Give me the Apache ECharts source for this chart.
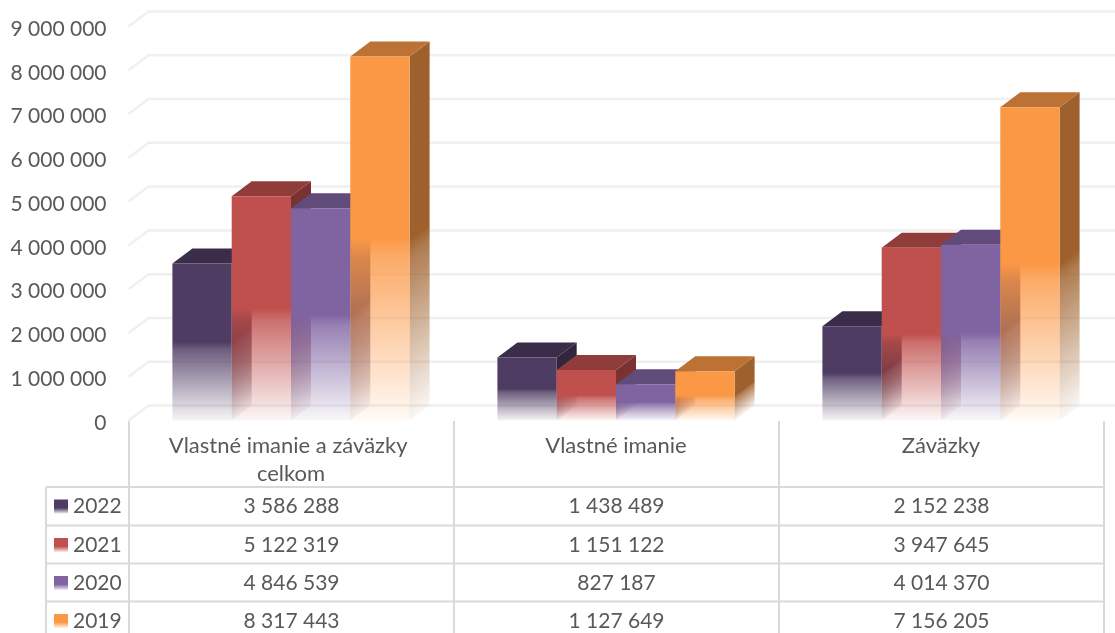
<!DOCTYPE html>
<html>
<head>
<meta charset="utf-8">
<style>html,body{margin:0;padding:0;background:#fff}#c{width:1115px;height:633px}</style>
<script src="https://cdn.jsdelivr.net/npm/echarts@6/dist/echarts.min.js"></script>
</head>
<body>
<div id="c"></div>
<script>
const categories = ['Vlastné imanie a záväzky celkom', 'Vlastné imanie', 'Záväzky'];
const years = ['2022', '2021', '2020', '2019'];
const values2022 = [3586288, 1438489, 2152238];
const values2021 = [5122319, 1151122, 3947645];
const values2020 = [4846539, 827187, 4014370];
const values2019 = [8317443, 1127649, 7156205];
const yTicks = [0, 1000000, 2000000, 3000000, 4000000, 5000000, 6000000, 7000000, 8000000, 9000000];
const seriesValues = [values2022, values2021, values2020, values2019];
const frontColors = [[79, 60, 99], [192, 80, 77], [128, 100, 162], [251, 152, 70]];

const DX = 20, DY = 15, BAR_FRACTION = 59.3 / 325;
const FONT = 'Lato';
const TEXT = '#595959';
const LINE = '#D9D9D9';
const fmt = v => String(v).replace(/\B(?=(\d{3})+(?!\d))/g, ' ');
const rgb = (c, a, k) => `rgba(${Math.round(c[0]*(k||1))},${Math.round(c[1]*(k||1))},${Math.round(c[2]*(k||1))},${a})`;
const fadeStops = (c, k) => [
  {offset: 0, color: rgb(c, 1, k)},
  {offset: 0.5, color: rgb(c, 1, k)},
  {offset: 0.55, color: rgb(c, 0.82, k)},
  {offset: 1, color: rgb(c, 0.05, k)}
];

function wallItem(params, api) {
  const y = api.coord([0, api.value(1)])[1];
  const cs = params.coordSys;
  return {
    type: 'polyline', silent: true,
    shape: {points: [[cs.x, y], [cs.x + DX, y - DY], [cs.x + cs.width + DX, y - DY]]},
    style: {stroke: '#F0F0F0', lineWidth: 2.5, fill: null}
  };
}

function barItem(idx) {
  return function (params, api) {
    const c = frontColors[idx];
    const p = api.coord([api.value(0), api.value(1)]);
    const base = api.coord([api.value(0), 0])[1];
    const w = api.size([1, 0])[0] * BAR_FRACTION;
    const x = p[0] + (idx - 2) * w;
    const y = p[1], h = base - y;
    const r = x + w;
    // side face fades along the sheared floor edge
    const g = 0.8 * h;
    const sideFill = new echarts.graphic.LinearGradient(r, y, r + 0.6 * g, y + 0.8 * g, fadeStops(c, 0.63), true);
    return {
      type: 'group',
      children: [
        {type: 'polygon', silent: true,
         shape: {points: [[r, y], [r + DX, y - DY], [r + DX, base - DY], [r, base]]},
         style: {fill: sideFill}},
        {type: 'polygon', silent: true,
         shape: {points: [[x, y], [x + DX, y - DY], [r + DX, y - DY], [r, y]]},
         style: {fill: rgb(c, 1, 0.75)}},
        {type: 'rect', silent: true,
         shape: {x: x, y: y, width: w, height: h},
         style: {fill: new echarts.graphic.LinearGradient(0, 0, 0, 1, fadeStops(c, 1))}}
      ]
    };
  };
}

// data table drawn under the plot
const colX = [129, 454, 779, 1104], leftX = 46;
const rowY = [487, 525.5, 563.5, 601.5];
const table = [];
const line = (x1, y1, x2, y2) => table.push({type: 'line', silent: true,
  shape: {x1, y1, x2, y2}, style: {stroke: LINE, lineWidth: 2}});
colX.forEach(x => line(x, 421, x, 633));
line(leftX, 487, leftX, 633);
rowY.forEach(y => line(leftX, y, colX[3], y));
const label = (x, y, text, align) => table.push({type: 'text', silent: true, x, y,
  style: {text, fill: TEXT, font: '21px ' + FONT, textAlign: align, textVerticalAlign: 'middle'}});
years.forEach((yr, i) => {
  const cy = rowY[i] + 19.5;
  const c = frontColors[i];
  table.push({type: 'rect', silent: true, shape: {x: 54, y: cy - 7, width: 14, height: 14},
    style: {fill: new echarts.graphic.LinearGradient(0, 0, 0, 1, [
      {offset: 0, color: rgb(c, 1)}, {offset: 0.6, color: rgb(c, 1)}, {offset: 1, color: rgb(c, 0.1)}])}});
  label(73, cy, yr, 'left');
  seriesValues[i].forEach((v, j) => label((colX[j] + colX[j + 1]) / 2, cy, fmt(v), 'center'));
});

const hiddenAxisParts = {axisLine: {show: false}, axisTick: {show: false}, splitLine: {show: false}};
const chart = echarts.init(document.getElementById('c'), null, {renderer: 'canvas'});
chart.setOption({
  animation: false,
  backgroundColor: '#fff',
  grid: [
    {left: 128.5, right: 11.5, top: 26.5, bottom: 212.5, containLabel: false},
    // same plot moved down a little: it only carries the value labels
    {left: 128.5, right: 11.5, top: 29, bottom: 210, containLabel: false}
  ],
  xAxis: [
    Object.assign({type: 'category', data: categories, gridIndex: 0,
      axisLabel: {color: TEXT, fontFamily: FONT, fontSize: 22, lineHeight: 28, margin: 11,
        width: 280, overflow: 'break', interval: 0, verticalAlign: 'top'}}, hiddenAxisParts),
    Object.assign({type: 'category', data: categories, gridIndex: 1, axisLabel: {show: false}}, hiddenAxisParts)
  ],
  yAxis: [
    Object.assign({type: 'value', min: 0, max: 9000000, interval: 1000000, gridIndex: 0,
      axisLabel: {show: false}}, hiddenAxisParts),
    Object.assign({type: 'value', min: 0, max: 9000000, interval: 1000000, gridIndex: 1,
      axisLabel: {color: TEXT, fontFamily: FONT, fontSize: 21, margin: 22, formatter: v => fmt(v)}}, hiddenAxisParts)
  ],
  graphic: table,
  series: [
    {type: 'custom', coordinateSystem: 'cartesian2d', xAxisIndex: 0, yAxisIndex: 0, silent: true, z: 1,
     renderItem: wallItem, encode: {x: 0, y: 1},
     data: yTicks.map(v => [0, v])}
  ].concat(years.map((yr, i) => ({
    name: yr, type: 'custom', coordinateSystem: 'cartesian2d', xAxisIndex: 0, yAxisIndex: 0, z: 2 + i,
    renderItem: barItem(i), encode: {x: 0, y: 1},
    data: seriesValues[i].map((v, j) => [j, v])
  })))
});
</script>
</body>
</html>
